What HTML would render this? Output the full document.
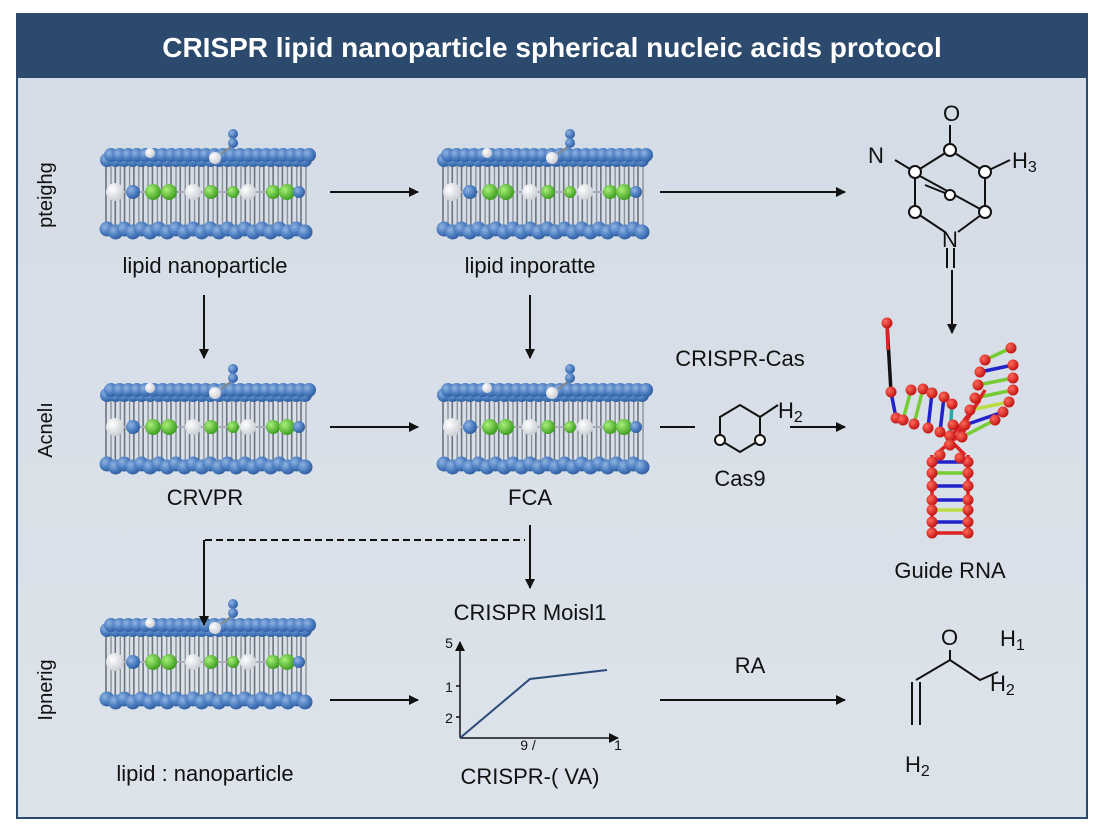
<!DOCTYPE html>
<html><head><meta charset="utf-8">
<style>
html,body{margin:0;padding:0;background:#fff;}
#c{position:relative;width:1104px;height:832px;overflow:hidden;font-family:"Liberation Sans",sans-serif;}
</style></head>
<body><div id="c">
<svg id="s" width="1104" height="832" viewBox="0 0 1104 832" xmlns="http://www.w3.org/2000/svg">
<defs>
<linearGradient id="bg" x1="0" y1="0" x2="0" y2="1"><stop offset="0" stop-color="#d3dbe6"/><stop offset="1" stop-color="#dde3ea"/></linearGradient>
<radialGradient id="bl" cx="0.35" cy="0.35" r="0.7"><stop offset="0" stop-color="#8fb3e0"/><stop offset="0.6" stop-color="#4a7cc0"/><stop offset="1" stop-color="#2f5c9c"/></radialGradient>
<radialGradient id="gr" cx="0.35" cy="0.35" r="0.7"><stop offset="0" stop-color="#a8f07a"/><stop offset="1" stop-color="#3a9a1c"/></radialGradient>
<radialGradient id="wh" cx="0.35" cy="0.35" r="0.7"><stop offset="0" stop-color="#ffffff"/><stop offset="1" stop-color="#c8ccd2"/></radialGradient>
<radialGradient id="rd" cx="0.35" cy="0.35" r="0.7"><stop offset="0" stop-color="#ff6a5a"/><stop offset="1" stop-color="#c01010"/></radialGradient>
<marker id="ah" markerWidth="10" markerHeight="10" refX="9" refY="5" orient="auto" markerUnits="userSpaceOnUse"><path d="M0,0 L10,5 L0,10 z" fill="#111"/></marker>
</defs>
<rect x="0" y="0" width="1104" height="832" fill="#fff"/>
<rect x="17" y="14" width="1070" height="804" fill="url(#bg)" stroke="#2b4a6e" stroke-width="2"/>
<rect x="17" y="14" width="1070" height="64" fill="#2b4a6e"/>
<text x="552" y="57" text-anchor="middle" font-size="28" font-weight="bold" fill="#fff">CRISPR lipid nanoparticle spherical nucleic acids protocol</text>
<g id="layers"></g>
<g font-size="22" fill="#111" text-anchor="middle">
<text x="205" y="273">lipid nanoparticle</text>
<text x="530" y="273">lipid inporatte</text>
<text x="205" y="505">CRVPR</text>
<text x="530" y="505">FCA</text>
<text x="205" y="781">lipid : nanoparticle</text>
<text x="740" y="366">CRISPR-Cas</text>
<text x="740" y="486">Cas9</text>
<text x="950" y="578">Guide RNA</text>
<text x="530" y="620">CRISPR Moisl1</text>
<text x="530" y="784">CRISPR-( VA)</text>
<text x="750" y="673">RA</text>
</g>
<g font-size="20" fill="#111" text-anchor="middle">
<text transform="translate(52,195) rotate(-90)">pteighg</text>
<text transform="translate(52,430) rotate(-90)">Acnelı</text>
<text transform="translate(52,690) rotate(-90)">Ipnerig</text>
</g>
<g stroke="#111" stroke-width="2" fill="none">
<line x1="330" y1="192" x2="418" y2="192" marker-end="url(#ah)"/>
<line x1="660" y1="192" x2="845" y2="192" marker-end="url(#ah)"/>
<line x1="204" y1="295" x2="204" y2="358" marker-end="url(#ah)"/>
<line x1="530" y1="295" x2="530" y2="358" marker-end="url(#ah)"/>
<line x1="952" y1="270" x2="952" y2="333" marker-end="url(#ah)"/>
<line x1="330" y1="427" x2="418" y2="427" marker-end="url(#ah)"/>
<line x1="660" y1="427" x2="695" y2="427"/>
<line x1="790" y1="427" x2="845" y2="427" marker-end="url(#ah)"/>
<line x1="205" y1="540" x2="525" y2="540" stroke-dasharray="7,4"/>
<line x1="204" y1="540" x2="204" y2="625" marker-end="url(#ah)"/>
<line x1="530" y1="525" x2="530" y2="588" marker-end="url(#ah)"/>
<line x1="330" y1="700" x2="418" y2="700" marker-end="url(#ah)"/>
<line x1="660" y1="700" x2="845" y2="700" marker-end="url(#ah)"/>
</g>
<g stroke="#111" stroke-width="2" fill="none">
<line x1="950" y1="125" x2="950" y2="150"/>
<line x1="950" y1="150" x2="915" y2="172"/>
<line x1="950" y1="150" x2="985" y2="172"/>
<line x1="985" y1="172" x2="1010" y2="160"/>
<line x1="895" y1="160" x2="915" y2="172"/>
<line x1="915" y1="172" x2="915" y2="212"/>
<line x1="985" y1="172" x2="985" y2="212"/>
<line x1="915" y1="212" x2="945" y2="232"/>
<line x1="985" y1="212" x2="958" y2="232"/>
<line x1="918" y1="175" x2="982" y2="210"/>
<line x1="925" y1="185" x2="950" y2="195"/>
<line x1="947" y1="248" x2="947" y2="268"/>
<line x1="954" y1="248" x2="954" y2="268"/>
</g>
<g fill="#fff" stroke="#111" stroke-width="2">
<circle cx="950" cy="150" r="6"/><circle cx="915" cy="172" r="6"/><circle cx="985" cy="172" r="6"/>
<circle cx="915" cy="212" r="6"/><circle cx="985" cy="212" r="6"/><circle cx="950" cy="195" r="5"/>
</g>
<g font-size="22" fill="#111">
<text x="868" y="163">N</text><text x="943" y="121">O</text><text x="1012" y="168">H<tspan font-size="16" dy="4">3</tspan></text>
<text x="942" y="247">N</text>
</g>
<g stroke="#111" stroke-width="2" fill="none">
<polygon points="740,405 760,417 760,440 740,452 720,440 720,417"/>
<line x1="760" y1="417" x2="778" y2="405"/>
</g>
<g fill="#fff" stroke="#111" stroke-width="2"><circle cx="720" cy="440" r="5"/><circle cx="760" cy="440" r="5"/></g>
<text x="778" y="418" font-size="22" fill="#111">H<tspan font-size="16" dy="4">2</tspan></text>
<g stroke="#111" stroke-width="1.5" fill="none">
<line x1="460" y1="738" x2="460" y2="642" marker-end="url(#ah)"/>
<line x1="460" y1="738" x2="618" y2="738" marker-end="url(#ah)"/>
<line x1="456" y1="686" x2="460" y2="686"/><line x1="456" y1="717" x2="460" y2="717"/>
</g>
<polyline points="460,738 530,679 607,670" fill="none" stroke="#2b4a7a" stroke-width="2"/>
<g font-size="14" fill="#111" text-anchor="middle"><text x="449" y="648">5</text><text x="449" y="692">1</text><text x="449" y="723">2</text><text x="528" y="750">9 /</text><text x="618" y="750">1</text></g>
<g stroke="#111" stroke-width="2" fill="none">
<polyline points="916,680 950,660 980,680 998,672"/>
<line x1="950" y1="660" x2="950" y2="650"/>
<line x1="912" y1="682" x2="912" y2="725"/><line x1="920" y1="682" x2="920" y2="725"/>
</g>
<g font-size="22" fill="#111"><text x="941" y="645">O</text><text x="1000" y="646">H<tspan font-size="16" dy="4">1</tspan></text>
<text x="990" y="691">H<tspan font-size="16" dy="4">2</tspan></text><text x="905" y="772">H<tspan font-size="16" dy="4">2</tspan></text></g>
<g id="rna"></g>
</svg>
<script>
var NS="http://www.w3.org/2000/svg",L=document.getElementById("layers"),R=document.getElementById("rna");
function el(p,t,a){var e=document.createElementNS(NS,t);for(var k in a)e.setAttribute(k,a[k]);p.appendChild(e);return e;}
function bilayer(x0,y0){
 var g=el(L,"g",{});
 var n=22,w=205,ty=y0+7,by=y0+79,my=y0+42;
 for(var i=0;i<n;i++){var x=x0+5+i*(w-10)/(n-1);
  el(g,"line",{x1:x-2,y1:ty,x2:x-2,y2:by,stroke:"#6c737c","stroke-width":1.6});
  el(g,"line",{x1:x+3,y1:ty,x2:x+3,y2:by,stroke:"#8a9098","stroke-width":1.4});}
 el(g,"line",{x1:x0+10,y1:my,x2:x0+195,y2:my,stroke:"#aab","stroke-width":2});
 var mids=[[12,"wh",9],[30,"bl",7],[50,"gr",8],[66,"gr",8],[90,"wh",8],[108,"gr",7],[130,"gr",6],[145,"wh",8],[170,"gr",7],[184,"gr",8],[196,"bl",6]];
 mids.forEach(function(m){el(g,"circle",{cx:x0+m[0],cy:my,r:m[2],fill:"url(#"+m[1]+")"});});
 for(var row=0;row<2;row++){for(var i=0;i<24;i++){var x=x0+4+i*198/23+(row?4:0);
   el(g,"circle",{cx:x,cy:(row?ty-2:ty+3),r:7,fill:"url(#bl)"});}}
 for(var i=0;i<24;i++){var x=x0+4+i*198/23;el(g,"circle",{cx:x,cy:by+(i%2?3:0),r:7.5,fill:"url(#bl)"});}
 el(g,"circle",{cx:x0+47,cy:ty-4,r:5,fill:"url(#wh)"});
 el(g,"circle",{cx:x0+112,cy:ty+1,r:6,fill:"url(#wh)"});
 el(g,"line",{x1:x0+118,y1:ty-3,x2:x0+130,y2:ty-12,stroke:"#888","stroke-width":2});
 el(g,"circle",{cx:x0+130,cy:y0-16,r:5,fill:"url(#bl)"});
 el(g,"circle",{cx:x0+130,cy:y0-7,r:5,fill:"url(#bl)"});
}
bilayer(103,150);bilayer(440,150);bilayer(103,385);bilayer(440,385);bilayer(103,620);
function ln(a,b,c,d,col){el(R,"line",{x1:a,y1:b,x2:c,y2:d,stroke:col,"stroke-width":3.5});}
function ball(x,y){el(R,"circle",{cx:x,cy:y,r:5.5,fill:"url(#rd)"});}
ln(887,323,891,392,"#111");ln(887,323,888,350,"#d22");
var cols=["#22c","#7c3","#22c","#22c","#bd4","#22c","#d22"],ys=[462,473,486,500,510,522,533];
ys.forEach(function(y,i){ln(932,y,968,y,cols[i]);});
ln(932,455,932,537,"#d22");ln(968,455,968,537,"#d22");
ys.forEach(function(y){ball(932,y);ball(968,y);});
var la=[[891,392,896,418],[911,390,903,420],[923,389,914,424],[932,393,928,428],[944,397,940,432],[952,404,950,436]];
var lc=["#22c","#7c3","#7c3","#22c","#22c","#2aa"];
la.forEach(function(p,i){ln(p[0],p[1],p[2],p[3],lc[i]);});
var ra=[[1011,348,985,360],[1013,365,980,372],[1013,378,978,385],[1013,390,975,398],[1009,402,970,410],[1003,412,965,425],[995,420,962,437]];
var rc=["#7c3","#22c","#7c3","#7c3","#bd4","#22c","#7c3"];
ra.forEach(function(p,i){ln(p[0],p[1],p[2],p[3],rc[i]);});
ln(955,440,985,390,"#d22");ln(945,445,980,400,"#d22");ln(935,455,965,430,"#d22");ln(965,455,940,430,"#d22");
la.forEach(function(p){ball(p[0],p[1]);ball(p[2],p[3]);});
ra.forEach(function(p){ball(p[0],p[1]);ball(p[2],p[3]);});
ball(887,323);ball(950,445);ball(940,455);ball(960,458);ball(953,425);
</script>
</div></body></html>
